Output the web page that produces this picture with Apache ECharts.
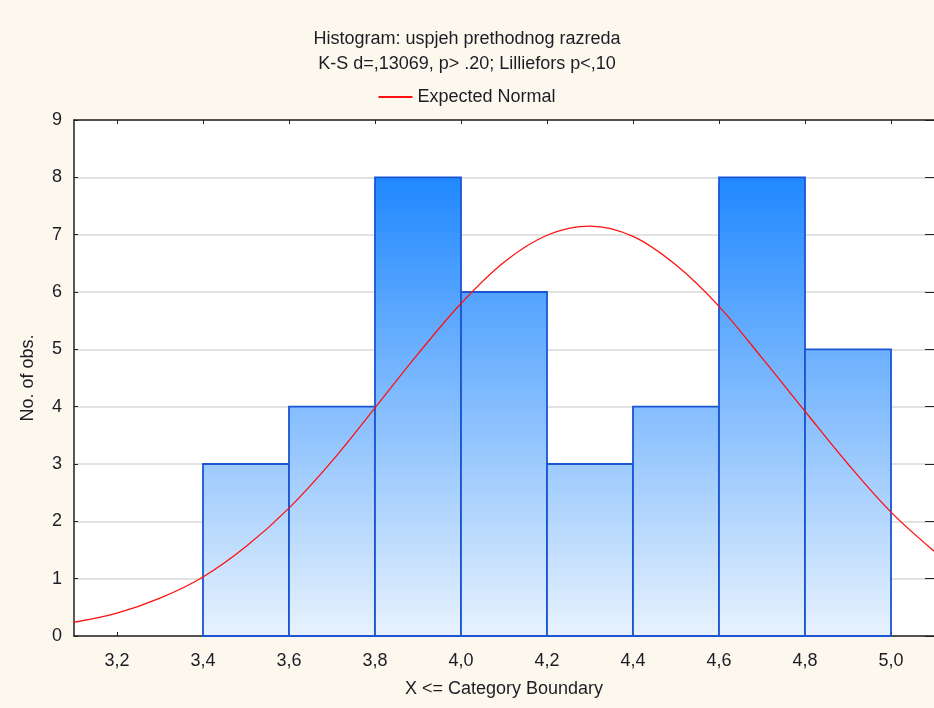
<!DOCTYPE html>
<html>
<head>
<meta charset="utf-8">
<script src="https://cdn.jsdelivr.net/npm/echarts@6/dist/echarts.min.js"></script>
<style>
  html, body { margin: 0; padding: 0; background: #fdf8ee; }
  #chart { width: 934px; height: 708px; }
</style>
</head>
<body>
<div id="chart"></div>
<script>
// ---- data ----
const titleLine1 = 'Histogram: uspjeh prethodnog razreda';
const titleLine2 = 'K-S d=,13069, p> .20; Lilliefors p<,10';
const legendName = 'Expected Normal';
const xAxisName = 'X <= Category Boundary';
const yAxisName = 'No. of obs.';

const binLower = [3.4, 3.6, 3.8, 4.0, 4.2, 4.4, 4.6, 4.8];
const binUpper = [3.6, 3.8, 4.0, 4.2, 4.4, 4.6, 4.8, 5.0];
const binCounts = [3, 4, 8, 6, 3, 4, 8, 5];

const curveX = [3.1, 3.2, 3.3, 3.4, 3.5, 3.6, 3.7, 3.8, 3.9, 4.0, 4.1,
                4.2, 4.3, 4.4, 4.5, 4.6, 4.7, 4.8, 4.9, 5.0, 5.1];
const curveY = [0.24, 0.40, 0.66, 1.03, 1.56, 2.23, 3.05, 3.98, 4.92, 5.80, 6.52,
                6.99, 7.15, 6.97, 6.47, 5.75, 4.85, 3.92, 3.00, 2.16, 1.48];

const xTickValues = [3.2, 3.4, 3.6, 3.8, 4.0, 4.2, 4.4, 4.6, 4.8, 5.0];
const xMin = 3.1, xMax = 5.1;
const yMin = 0, yMax = 9, yStep = 1;

// ---- chart ----
const chart = echarts.init(document.getElementById('chart'));
const FONT = 'Liberation Sans, Arial, sans-serif';
const TXT = '#1c1c24';
const FS = 18;
const fmtComma = v => Number(v).toFixed(1).replace('.', ',');

const binData = binLower.map((lo, i) => [lo, binUpper[i], binCounts[i]]);
const curveData = curveX.map((x, i) => [x, curveY[i]]);

const option = {
  backgroundColor: '#fdf8ee',
  textStyle: { fontFamily: FONT },
  title: {
    text: titleLine1 + '\n' + titleLine2,
    left: 'center',
    top: 22,
    textStyle: { fontFamily: FONT, fontSize: FS, fontWeight: 'normal', color: TXT, lineHeight: 25 }
  },
  legend: {
    data: [{ name: legendName, icon: 'rect' }],
    top: 83,
    left: 'center',
    itemWidth: 34,
    itemHeight: 2,
    itemGap: 10,
    textStyle: { fontFamily: FONT, fontSize: FS, color: TXT }
  },
  grid: { left: 74, top: 120, right: -6, bottom: 72, containLabel: false,
          show: true, backgroundColor: '#ffffff', borderWidth: 0 },
  xAxis: [{
    type: 'value',
    min: xMin, max: xMax,
    position: 'bottom',
    name: xAxisName,
    nameLocation: 'middle',
    nameGap: 44,
    nameTextStyle: { fontFamily: FONT, fontSize: FS, color: TXT },
    axisLine: { show: true, onZero: false, lineStyle: { color: '#222', width: 1.5 } },
    axisTick: { show: true, inside: true, length: 4, customValues: xTickValues, lineStyle: { color: '#222' } },
    axisLabel: { customValues: xTickValues, formatter: fmtComma, margin: 16, fontFamily: FONT, fontSize: FS, color: TXT },
    splitLine: { show: false }
  }, {
    type: 'value',
    min: xMin, max: xMax,
    position: 'top',
    axisLine: { show: true, onZero: false, lineStyle: { color: '#222', width: 1.5 } },
    axisTick: { show: true, inside: true, length: 4, customValues: xTickValues, lineStyle: { color: '#222' } },
    axisLabel: { show: false },
    splitLine: { show: false }
  }],
  yAxis: [{
    type: 'value',
    min: yMin, max: yMax, interval: yStep,
    position: 'left',
    name: yAxisName,
    nameLocation: 'middle',
    nameRotate: 90,
    nameGap: 37,
    nameTextStyle: { fontFamily: FONT, fontSize: FS, color: TXT },
    axisLine: { show: true, onZero: false, lineStyle: { color: '#222', width: 1.5 } },
    axisTick: { show: true, inside: true, length: 4, lineStyle: { color: '#222' } },
    axisLabel: { margin: 12, fontFamily: FONT, fontSize: FS, color: TXT },
    splitLine: { show: true, lineStyle: { color: '#d9d9d9', width: 1.5 } }
  }, {
    type: 'value',
    min: yMin, max: yMax, interval: yStep,
    position: 'right',
    axisLine: { show: false },
    axisTick: { show: true, inside: true, length: 9, lineStyle: { color: '#222' } },
    axisLabel: { show: false },
    splitLine: { show: false }
  }],
  series: [{
    type: 'custom',
    name: 'bins',
    xAxisIndex: 0,
    yAxisIndex: 0,
    encode: { x: [0, 1], y: 2 },
    data: binData,
    z: 2,
    renderItem: function (params, api) {
      const lo = api.value(0), hi = api.value(1), c = api.value(2);
      const p0 = api.coord([lo, 0]);
      const p1 = api.coord([hi, c]);
      const top = api.coord([lo, yMax])[1];
      const bottom = p0[1];
      const grad = new echarts.graphic.LinearGradient(0, top, 0, bottom, [
        { offset: 0, color: '#137cff' },
        { offset: 0.111, color: '#2088ff' },
        { offset: 1, color: '#e8f2fd' }
      ], true);
      return {
        type: 'rect',
        shape: { x: p0[0], y: p1[1], width: p1[0] - p0[0], height: p0[1] - p1[1] },
        style: { fill: grad, stroke: '#1a55d4', lineWidth: 1.8 }
      };
    }
  }, {
    type: 'line',
    name: legendName,
    xAxisIndex: 0,
    yAxisIndex: 0,
    data: curveData,
    smooth: 0.35,
    symbol: 'none',
    clip: true,
    z: 5,
    lineStyle: { color: '#ff1010', width: 1.3 },
    itemStyle: { color: '#ff1010' }
  }]
};
chart.setOption(option);
</script>
</body>
</html>
